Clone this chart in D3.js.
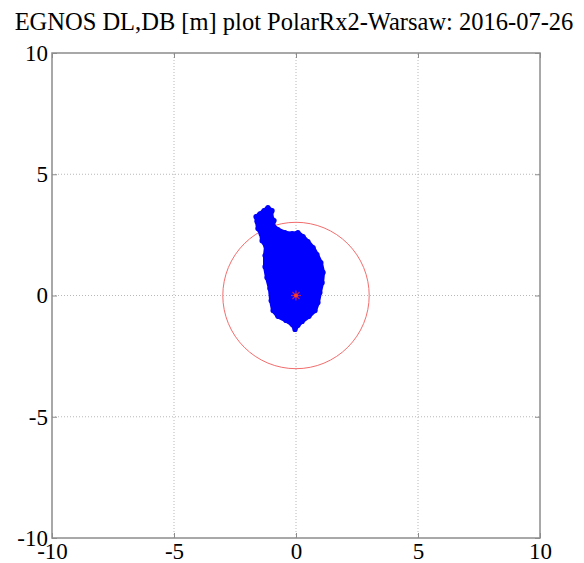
<!DOCTYPE html>
<html>
<head>
<meta charset="utf-8">
<script src="https://cdn.jsdelivr.net/npm/d3@7"></script>
<style>
  body { margin: 0; background: #fff; }
  text { font-family: "Liberation Serif", "Times New Roman", serif; fill: #000; }
</style>
</head>
<body>
<div id="chart"></div>
<script>
// axis ticks (both axes use the same ones)
const tickValues = [-10, -5, 0, 5, 10];
const circleRadius = 3; // [m]

// outline of the dense DL,DB cloud [m]
const cloudX = [-1.15, -0.98, -1.02, -0.90, -0.94, -0.74, -0.45, -0.16, 0.08, 0.29,
  0.49, 0.70, 0.86, 1.02, 1.11, 1.07, 0.98, 0.90, 0.78, 0.53,
  0.25, 0.08, -0.04, -0.16, -0.41, -0.74, -0.94, -1.02, -1.07, -1.19,
  -1.27, -1.27, -1.23, -1.39, -1.43, -1.56, -1.60, -1.64, -1.48, -1.31];
const cloudY = [3.62, 3.50, 3.25, 3.09, 2.88, 2.72, 2.59, 2.55, 2.59, 2.43,
  2.22, 1.98, 1.69, 1.36, 0.95, 0.53, 0.12, -0.29, -0.62, -0.86,
  -1.07, -1.23, -1.40, -1.19, -1.03, -0.86, -0.62, -0.21, 0.29, 0.74,
  1.19, 1.65, 2.02, 2.26, 2.55, 2.76, 3.05, 3.25, 3.37, 3.50];

// mean position marker
const meanX = [0];
const meanY = [0];

const width = 584, height = 563;
const margin = { top: 53, right: 44, bottom: 25, left: 52 };

const svg = d3.select('#chart').append('svg')
  .attr('width', width)
  .attr('height', height);

let x = d3.scaleLinear().domain([-10, 10]).range([margin.left, width - margin.right]);
let y = d3.scaleLinear().domain([-10, 10]).range([height - margin.bottom, margin.top]);

// grid
let grid = svg.append('g');
grid.selectAll('.gx')
  .data(tickValues.slice(1, -1))
  .enter().append('line')
  .attr('x1', d => x(d)).attr('x2', d => x(d))
  .attr('y1', y(-10)).attr('y2', y(10))
  .attr('stroke', '#b8b8b8').attr('stroke-dasharray', '1,2');
grid.selectAll('.gy')
  .data(tickValues.slice(1, -1))
  .enter().append('line')
  .attr('y1', d => y(d)).attr('y2', d => y(d))
  .attr('x1', x(-10)).attr('x2', x(10))
  .attr('stroke', '#b8b8b8').attr('stroke-dasharray', '1,2');

// red circle of radius 3 m
svg.append('circle')
  .attr('cx', x(0)).attr('cy', y(0))
  .attr('r', x(circleRadius) - x(0))
  .attr('fill', 'none')
  .attr('stroke', '#f26d6d')
  .attr('stroke-width', 1);

// the cloud
let pts = cloudX.map((d, i) => [d, cloudY[i]]);
let line = d3.line().x(d => x(d[0])).y(d => y(d[1])).curve(d3.curveLinearClosed);
svg.append('path')
  .datum(pts)
  .attr('d', line)
  .attr('fill', '#0000ff')
  .attr('stroke', '#0000ff')
  .attr('stroke-width', 4)
  .attr('stroke-linejoin', 'round');
svg.selectAll('.dot')
  .data(pts)
  .enter().append('circle')
  .attr('cx', d => x(d[0])).attr('cy', d => y(d[1]))
  .attr('r', 2.6)
  .attr('fill', '#0000ff');

// mean marker '*'
let mk = svg.append('g').selectAll('g')
  .data(meanX.map((d, i) => [d, meanY[i]]))
  .enter().append('g')
  .attr('transform', d => `translate(${x(d[0])},${y(d[1])})`);
[0, 45, 90, 135].forEach(a => {
  mk.append('line')
    .attr('x1', -5).attr('x2', 5)
    .attr('transform', `rotate(${a})`)
    .attr('stroke', '#b0206a').attr('stroke-width', 1.2);
});
mk.append('circle').attr('r', 2).attr('fill', '#ff4020');

// axes box with inward ticks (matlab style)
let axisColor = '#8c8c8c';
svg.append('rect')
  .attr('x', x(-10)).attr('y', y(10))
  .attr('width', x(10) - x(-10)).attr('height', y(-10) - y(10))
  .attr('fill', 'none').attr('stroke', axisColor).attr('stroke-width', 1.5);

let xAxisB = d3.axisBottom(x).tickValues(tickValues).tickSize(-5).tickFormat(d => d);
let xAxisT = d3.axisTop(x).tickValues(tickValues).tickSize(-5).tickFormat('');
let yAxisL = d3.axisLeft(y).tickValues(tickValues).tickSize(-5).tickFormat(d => d);
let yAxisR = d3.axisRight(y).tickValues(tickValues).tickSize(-5).tickFormat('');

function styleAxis(g) {
  g.select('.domain').remove();
  g.selectAll('.tick line').attr('stroke', axisColor);
  g.selectAll('.tick text')
    .attr('font-family', '"Liberation Serif", serif')
    .attr('font-size', 23)
    .attr('fill', '#000');
}

svg.append('g').attr('transform', `translate(0,${y(-10)})`).call(xAxisB).call(styleAxis)
  .selectAll('.tick text').attr('dy', '0.72em').attr('y', 4);
svg.append('g').attr('transform', `translate(0,${y(10)})`).call(xAxisT).call(styleAxis);
svg.append('g').attr('transform', `translate(${x(-10)},0)`).call(yAxisL).call(styleAxis)
  .selectAll('.tick text').attr('x', -4);
svg.append('g').attr('transform', `translate(${x(10)},0)`).call(yAxisR).call(styleAxis);

// title
svg.append('text')
  .attr('x', 294).attr('y', 30)
  .attr('text-anchor', 'middle')
  .attr('font-size', 24.5)
  .text('EGNOS DL,DB [m] plot PolarRx2-Warsaw: 2016-07-26');
</script>
</body>
</html>
